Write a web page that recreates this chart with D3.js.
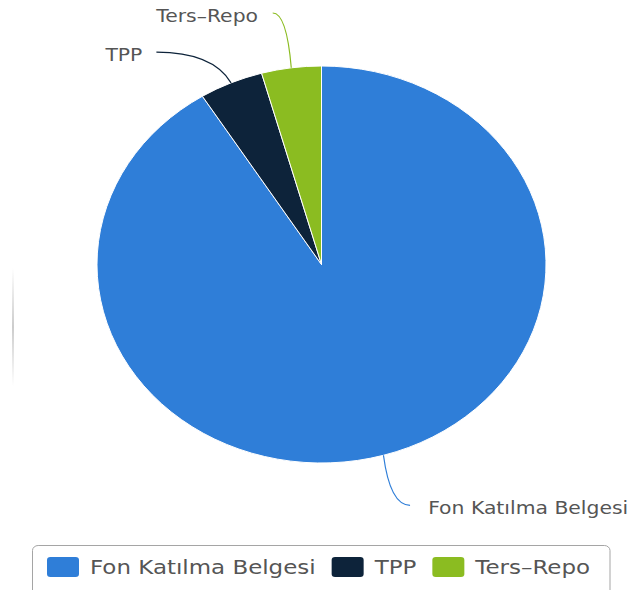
<!DOCTYPE html>
<html>
<head>
<meta charset="utf-8">
<script src="https://cdn.jsdelivr.net/npm/d3@7"></script>
<style>
body { margin: 0; background: #fff; }
text { font-family: "DejaVu Sans", Verdana, sans-serif; fill: #555; }
</style>
</head>
<body>
<script>
// data
var categories = ["Fon Katılma Belgesi", "TPP", "Ters–Repo"];
var values = [91.1, 4.6, 4.3];
var colors = ["#2f7ed8", "#0d233a", "#8bbc21"];

var width = 639, height = 590;
var sx = 1.131; // picture is stretched sideways
var cx = 321.5 / sx, cy = 264.5, r = 198.5;

// label point offset from slice edge (dx, dy), text gap, side
var labelLayout = [
  { dx: 23.5, dy: 50, gap: 16, side: 1 },
  { dx: -66, dy: -30.6, gap: 12.4, side: -1 },
  { dx: -16.4, dy: -54.8, gap: 13, side: -1 }
];

var svg = d3.select("body").append("svg")
  .attr("width", width)
  .attr("height", height);

// faint shadow on the left edge
var grad = svg.append("defs").append("linearGradient")
  .attr("id", "shade").attr("x1", 0).attr("y1", 0).attr("x2", 0).attr("y2", 1);
grad.append("stop").attr("offset", "0%").attr("stop-color", "#ccc").attr("stop-opacity", 0);
grad.append("stop").attr("offset", "50%").attr("stop-color", "#ccc").attr("stop-opacity", 1);
grad.append("stop").attr("offset", "100%").attr("stop-color", "#ccc").attr("stop-opacity", 0);
svg.append("rect")
  .attr("x", 12).attr("y", 268).attr("width", 2).attr("height", 118)
  .attr("fill", "url(#shade)");

var g = svg.append("g").attr("transform", "scale(" + sx + ",1)");

var pie = d3.pie().sort(null).value(function (d) { return d; });
var arcs = pie(values);

var arc = d3.arc().innerRadius(0).outerRadius(r);

g.append("g")
  .attr("transform", "translate(" + cx + "," + cy + ")")
  .selectAll("path")
  .data(arcs)
  .enter()
  .append("path")
  .attr("d", arc)
  .attr("fill", function (d, i) { return colors[i]; })
  .attr("stroke", "#fff")
  .attr("stroke-width", 1)
  .attr("vector-effect", "non-scaling-stroke");

// data labels with connectors
arcs.forEach(function (d, i) {
  var mid = (d.startAngle + d.endAngle) / 2;
  var ex = cx + r * Math.sin(mid);
  var ey = cy - r * Math.cos(mid);
  var L = labelLayout[i];
  var lx = ex + L.dx, ly = ey + L.dy;
  var qx = ex + 0.25 * (lx - ex);

  g.append("path")
    .attr("d", "M" + lx + "," + ly + " Q" + qx + "," + ly + " " + ex + "," + ey)
    .attr("fill", "none")
    .attr("stroke", colors[i])
    .attr("stroke-width", 1.2)
    .attr("vector-effect", "non-scaling-stroke");

  g.append("text")
    .attr("x", lx + L.side * L.gap)
    .attr("y", ly + 8.5)
    .attr("text-anchor", L.side > 0 ? "start" : "end")
    .style("font-size", "18px")
    .text(categories[i]);
});

// legend
g.append("rect")
  .attr("x", 32.5 / sx)
  .attr("y", 545.5)
  .attr("width", (610 - 32.5) / sx)
  .attr("height", 60)
  .attr("rx", 5)
  .attr("fill", "none")
  .attr("stroke", "#a5a5a5")
  .attr("vector-effect", "non-scaling-stroke");

var lx = 47 / sx;
categories.forEach(function (c, i) {
  g.append("rect")
    .attr("x", lx)
    .attr("y", 557)
    .attr("width", 32 / sx)
    .attr("height", 20)
    .attr("rx", 3)
    .attr("fill", colors[i]);
  var t = g.append("text")
    .attr("x", lx + 43 / sx)
    .attr("y", 574)
    .style("font-size", "20.3px")
    .text(c);
  lx = lx + 43 / sx + t.node().getComputedTextLength() + 16 / sx;
});
</script>
</body>
</html>
